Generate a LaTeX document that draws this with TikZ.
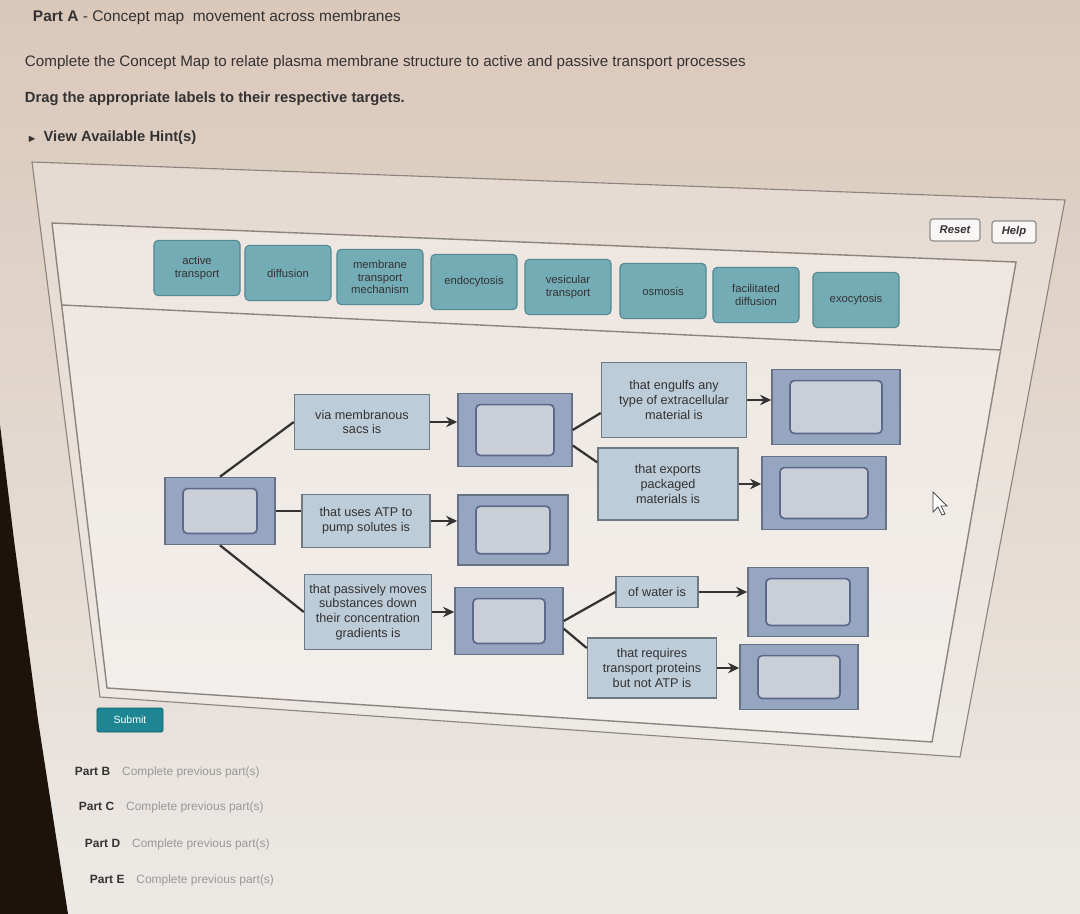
\documentclass[tikz,border=0pt]{standalone}
\usepackage{fontspec}
\setmainfont{Liberation Sans}
\newfontfamily\symfont{DejaVu Sans}
\usetikzlibrary{arrows.meta,calc}

\definecolor{bgtop}{RGB}{218,200,186}
\definecolor{bgbot}{RGB}{236,233,229}
\definecolor{edgegray}{RGB}{140,132,126}
\definecolor{tilefill}{RGB}{116,172,182}
\definecolor{tileedge}{RGB}{84,136,146}
\definecolor{labfill}{RGB}{188,204,216}
\definecolor{labedge}{RGB}{112,120,130}
\definecolor{tgtfill}{RGB}{150,166,192}
\definecolor{tgtedge}{RGB}{104,114,134}
\definecolor{slotfill}{RGB}{202,206,214}
\definecolor{slotedge}{RGB}{92,104,140}
\definecolor{ink}{RGB}{52,50,50}
\definecolor{submitfill}{RGB}{30,134,146}

\begin{document}
\begin{tikzpicture}[x=0.025cm,y=-0.025cm,
      >={Stealth[length=2.8mm,width=2.6mm]},
      bank/.style={draw=tileedge,line width=0.8pt,fill=tilefill,
        rounded corners=3pt,align=center,inner sep=1pt,
        minimum width=2.15cm,minimum height=1.38cm,
        text=ink,font=\fontsize{8}{9}\selectfont},
      res/.style={draw=labedge,line width=1pt,fill=labfill,align=center,
        inner sep=2pt,text=ink,font=\fontsize{9}{10.5}\selectfont},
      slot/.style={draw=tgtedge,line width=1pt,fill=tgtfill,
        path picture={\draw[slotedge,line width=1.2pt,fill=slotfill,
          rounded corners=3pt]
          ([xshift=0.45cm,yshift=0.28cm]path picture bounding box.south west)
          rectangle
          ([xshift=-0.45cm,yshift=-0.28cm]path picture bounding box.north east);}},
      link/.style={draw=ink,line width=1.6pt},
      flow/.style={link,->},
      btn/.style={draw=black!45,line width=0.8pt,fill=white!85!bgtop,
        rounded corners=2pt,inner sep=2pt,minimum height=0.55cm,
        text=ink,font=\bfseries\itshape\fontsize{8}{9}\selectfont},
      part/.style={anchor=west,text=ink,font=\fontsize{8.5}{10}\selectfont}
    ]
    \useasboundingbox (0,0) rectangle (1080,914);
    \shade[top color=bgtop,bottom color=bgbot] (0,0) rectangle (1080,914);
    \fill[black!85!brown] (0,425) -- (14,540) -- (38,720) -- (68,914)
      -- (0,914) -- cycle;

    \node[anchor=west,text=ink,font=\fontsize{11}{13}\selectfont] (title)
      at (28,18) {\textbf{Part A} - Concept map\ \ movement across membranes};
    \node[anchor=west,text=ink,font=\fontsize{10.8}{13}\selectfont] (task)
      at (20,63) {Complete the Concept Map to relate plasma membrane
      structure to active and passive transport processes};
    \node[anchor=west,text=ink,font=\bfseries\fontsize{10.5}{12}\selectfont]
      (drag) at (20,99) {Drag the appropriate labels to their respective
      targets.};
    \node[anchor=west,text=ink,font=\bfseries\fontsize{10.5}{12}\selectfont]
      (hint) at (24,138) {{\symfont\fontsize{6}{7}\selectfont ▶}\ \ View
      Available Hint(s)};

    \draw[edgegray,line width=0.8pt,fill=white,fill opacity=0.25]
      (32,162) -- (1065,200) -- (960,757) -- (100,697) -- cycle;
    \draw[edgegray,line width=1pt,fill=white,fill opacity=0.3]
      (52,223) -- (1016,262) -- (932,742) -- (107,688) -- cycle;
    \draw[edgegray,line width=1pt] (62,305) -- (1001,350);

    \node[btn,minimum width=1.25cm] (reset) at (955,230) {Reset};
    \node[btn,minimum width=1.1cm] (help) at (1014,232) {Help};

    \node[bank] (bA) at (197,268) {active\\transport};
    \node[bank] (bB) at (288,273) {diffusion};
    \node[bank] (bC) at (380,277) {membrane\\transport\\mechanism};
    \node[bank] (bD) at (474,282) {endocytosis};
    \node[bank] (bE) at (568,287) {vesicular\\transport};
    \node[bank] (bF) at (663,291) {osmosis};
    \node[bank] (bG) at (756,295) {facilitated\\diffusion};
    \node[bank] (bH) at (856,300) {exocytosis};

    \node[slot,minimum width=2.75cm,minimum height=1.68cm] (R) at (220,511) {};
    \node[res,minimum width=3.375cm,minimum height=1.375cm] (S1)
      at (362,422) {via membranous\\sacs is};
    \node[res,minimum width=3.2cm,minimum height=1.33cm] (S2)
      at (366,521) {that uses ATP to\\pump solutes is};
    \node[res,minimum width=3.175cm,minimum height=1.875cm] (S3)
      at (368,612) {that passively moves\\substances down\\their
      concentration\\gradients is};
    \node[slot,minimum width=2.85cm,minimum height=1.83cm] (V) at (515,430) {};
    \node[slot,minimum width=2.75cm,minimum height=1.75cm] (A) at (513,530) {};
    \node[slot,minimum width=2.7cm,minimum height=1.68cm] (D) at (509,621) {};
    \node[res,minimum width=3.625cm,minimum height=1.875cm] (E1)
      at (674,400) {that engulfs any\\type of extracellular\\material is};
    \node[res,minimum width=3.5cm,minimum height=1.8cm] (E2)
      at (668,484) {that exports\\packaged\\materials is};
    \node[res,minimum width=2.05cm,minimum height=0.78cm] (W1)
      at (657,592) {of water is};
    \node[res,minimum width=3.225cm,minimum height=1.5cm] (W2)
      at (652,668) {that requires\\transport proteins\\but not ATP is};
    \node[slot,minimum width=3.2cm,minimum height=1.88cm] (T1) at (836,407) {};
    \node[slot,minimum width=3.1cm,minimum height=1.83cm] (T2) at (824,493) {};
    \node[slot,minimum width=3.0cm,minimum height=1.73cm] (T3) at (808,602) {};
    \node[slot,minimum width=2.95cm,minimum height=1.63cm] (T4) at (799,677) {};

    \draw[link] (R.north) -- (S1.west);
    \draw[link] (R.east) -- (R.east -| S2.west);
    \draw[link] (R.south) -- (S3.west);
    \draw[flow] (S1.east) -- (S1.east -| V.west);
    \draw[flow] (S2.east) -- (S2.east -| A.west);
    \draw[flow] (S3.east) -- (S3.east -| D.west);
    \draw[link] (V.east) -- (E1.190);
    \draw[link] (V.-15) -- (E2.163);
    \draw[link] (D.east) -- (W1.west);
    \draw[link] (D.-8) -- (W2.163);
    \draw[flow] (E1.east) -- (E1.east -| T1.west);
    \draw[flow] (E2.east) -- (E2.east -| T2.west);
    \draw[flow] (W1.east) -- (W1.east -| T3.west);
    \draw[flow] (W2.east) -- (W2.east -| T4.west);

    \draw[black!70,fill=white,line width=0.6pt] (933,492) -- (933,512)
      -- (938,507) -- (942,515) -- (945,514) -- (941,506) -- (947,506) -- cycle;

    \node[draw=submitfill!70!black,fill=submitfill,text=white,rounded corners=1pt,
      minimum width=1.65cm,minimum height=0.6cm,
      font=\fontsize{7.5}{9}\selectfont] (submit) at (130,720) {Submit};
    \node[part] (pB) at (70,772) {\textbf{Part B}\quad
      \textcolor{black!40}{Complete previous part(s)}};
    \node[part] (pC) at (74,807) {\textbf{Part C}\quad
      \textcolor{black!40}{Complete previous part(s)}};
    \node[part] (pD) at (80,844) {\textbf{Part D}\quad
      \textcolor{black!40}{Complete previous part(s)}};
    \node[part] (pE) at (85,880) {\textbf{Part E}\quad
      \textcolor{black!40}{Complete previous part(s)}};
  \end{tikzpicture}
\end{document}
